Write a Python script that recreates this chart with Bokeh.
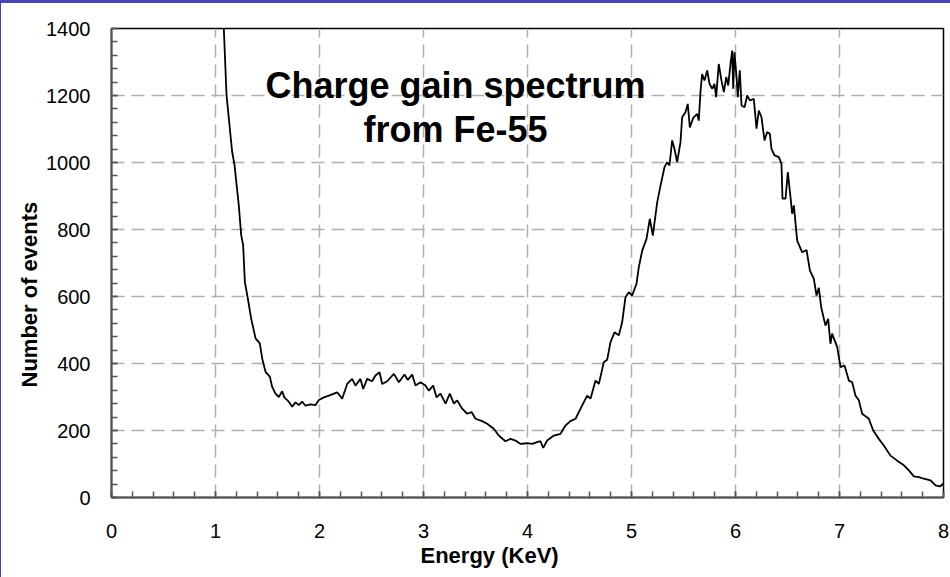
import numpy as np
from bokeh.plotting import figure
from bokeh.layouts import column, row
from bokeh.models import SingleIntervalTicker, Label, Range1d, Title, Div
from bokeh.embed import file_html
from bokeh.resources import INLINE

# ---- data ----
energy_kev = [
    1.080, 1.106, 1.160, 1.183, 1.224, 1.247, 1.266, 1.282, 1.311, 1.343,
    1.385, 1.426, 1.449, 1.481, 1.523, 1.545, 1.577, 1.609, 1.641, 1.663,
    1.705, 1.737, 1.769, 1.801, 1.833, 1.865, 1.913, 1.962, 1.994, 2.042,
    2.090, 2.170, 2.218, 2.266, 2.314, 2.346, 2.394, 2.420, 2.458, 2.506,
    2.538, 2.577, 2.603, 2.651, 2.715, 2.763, 2.817, 2.849, 2.891, 2.923,
    2.971, 3.019, 3.051, 3.093, 3.125, 3.163, 3.212, 3.253, 3.292, 3.324,
    3.372, 3.420, 3.462, 3.500, 3.564, 3.612, 3.676, 3.724, 3.788, 3.837,
    3.885, 3.933, 3.997, 4.045, 4.093, 4.125, 4.151, 4.189, 4.253, 4.317,
    4.365, 4.413, 4.462, 4.526, 4.574, 4.606, 4.654, 4.686, 4.734, 4.766,
    4.798, 4.837, 4.878, 4.910, 4.942, 4.974, 5.006, 5.048, 5.070, 5.103,
    5.144, 5.176, 5.205, 5.247, 5.279, 5.317, 5.343, 5.365, 5.391, 5.413,
    5.439, 5.471, 5.487, 5.519, 5.541, 5.561, 5.593, 5.631, 5.647, 5.663,
    5.679, 5.702, 5.728, 5.750, 5.776, 5.798, 5.814, 5.839, 5.865, 5.888,
    5.911, 5.930, 5.952, 5.968, 5.978, 5.990, 6.010, 6.022, 6.041, 6.058,
    6.087, 6.112, 6.138, 6.176, 6.202, 6.224, 6.250, 6.279, 6.305, 6.330,
    6.346, 6.375, 6.417, 6.442, 6.452, 6.481, 6.503, 6.529, 6.545, 6.561,
    6.593, 6.641, 6.683, 6.715, 6.753, 6.779, 6.801, 6.824, 6.865, 6.891,
    6.913, 6.929, 6.978, 7.010, 7.048, 7.090, 7.122, 7.154, 7.186, 7.218,
    7.282, 7.324, 7.378, 7.426, 7.490, 7.555, 7.619, 7.667, 7.715, 7.763,
    7.811, 7.875, 7.923, 7.965, 7.997,
]
events = [
    1400, 1201, 1032, 992, 872, 783, 753, 644, 594, 534,
    475, 460, 415, 375, 360, 330, 310, 300, 317, 298,
    286, 271, 284, 276, 286, 274, 278, 276, 291, 299,
    304, 314, 295, 339, 354, 334, 354, 324, 354, 347,
    364, 374, 339, 347, 369, 344, 367, 351, 367, 334,
    344, 334, 319, 334, 299, 310, 280, 310, 280, 290,
    265, 250, 255, 235, 228, 220, 205, 185, 168, 175,
    170, 160, 162, 160, 165, 168, 148, 170, 185, 190,
    215, 228, 235, 275, 304, 295, 349, 339, 404, 411,
    464, 493, 484, 523, 598, 613, 603, 638, 687, 737,
    772, 832, 782, 881, 931, 986, 1001, 991, 1066, 1041,
    1001, 1061, 1135, 1150, 1175, 1105, 1133, 1145, 1125, 1210,
    1264, 1245, 1275, 1235, 1220, 1235, 1195, 1294, 1245, 1210,
    1255, 1230, 1294, 1334, 1220, 1329, 1255, 1195, 1275, 1170,
    1165, 1200, 1185, 1190, 1101, 1155, 1135, 1066, 1091, 1086,
    1041, 1021, 1016, 996, 892, 892, 971, 896, 847, 872,
    767, 732, 739, 678, 653, 603, 626, 568, 513, 533,
    459, 489, 449, 389, 394, 349, 344, 304, 290, 250,
    235, 200, 175, 155, 125, 110, 96, 81, 63, 61,
    56, 51, 36, 33, 41,
]

title_lines = ["Charge gain spectrum", "from Fe-55"]
x_label = "Energy (KeV)"
y_label = "Number of events"

FONT = "Liberation Sans"
FRAME_BLUE = "#4646aa"

p = figure(
    width=949, height=574,
    output_backend="svg", toolbar_location=None,
    x_range=Range1d(0, 8), y_range=Range1d(0, 1400),
    min_border_left=110, min_border_right=7,
    min_border_top=25, min_border_bottom=80,
    background_fill_color="white", border_fill_color="white",
    margin=0,
)
p.outline_line_color = "black"
p.outline_line_width = 1.5

p.line(energy_kev, events, line_color="black", line_width=1.8)

# axes
for ax in (p.xaxis[0], p.yaxis[0]):
    ax.axis_line_color = "#555555"
    ax.axis_line_width = 2
    ax.major_tick_line_color = "#555555"
    ax.minor_tick_line_color = "#555555"
    ax.major_tick_line_width = 1.5
    ax.minor_tick_line_width = 1.5
    ax.major_tick_in = 6
    ax.major_tick_out = 0
    ax.minor_tick_in = 6
    ax.minor_tick_out = 0
    ax.major_label_text_font = FONT
    ax.major_label_text_font_size = "20px"
    ax.major_label_text_color = "black"

p.xaxis.ticker = SingleIntervalTicker(interval=1, num_minor_ticks=5)
p.yaxis.ticker = SingleIntervalTicker(interval=200, num_minor_ticks=5)
p.xaxis.major_label_standoff = 26
p.yaxis.major_label_standoff = 21

# grid
for g in (p.xgrid[0], p.ygrid[0]):
    g.grid_line_color = "#b0b0b0"
    g.grid_line_width = 1.5
    g.grid_line_dash = "13 7"

# title inside plot
p.add_layout(Label(x=3.308, y=1230, text=title_lines[0], text_align="center",
                   text_baseline="middle", text_font=FONT, text_font_style="bold",
                   text_font_size="36px", text_color="black"))
p.add_layout(Label(x=3.308, y=1098, text=title_lines[1], text_align="center",
                   text_baseline="middle", text_font=FONT, text_font_style="bold",
                   text_font_size="36px", text_color="black"))

# axis labels (titles in the side panels, placed like in the original)
p.add_layout(Title(text=x_label, align="left", offset=309, standoff=0,
                   text_font=FONT, text_font_style="bold", text_font_size="22px",
                   text_color="black"), "below")
p.add_layout(Title(text=y_label, align="left", offset=110, standoff=4,
                   text_font=FONT, text_font_style="bold", text_font_size="22px",
                   text_color="black"), "left")

# slide frame: blue band on top and thin blue line on the left
top_band = Div(text="", width=950, height=3, margin=0,
               styles={"background-color": FRAME_BLUE})
left_line = Div(text="", width=1, height=574, margin=0,
                styles={"background-color": FRAME_BLUE})
layout = column(top_band, row(left_line, p, spacing=0), spacing=0)

open("out.html", "w").write(file_html(layout, INLINE))
